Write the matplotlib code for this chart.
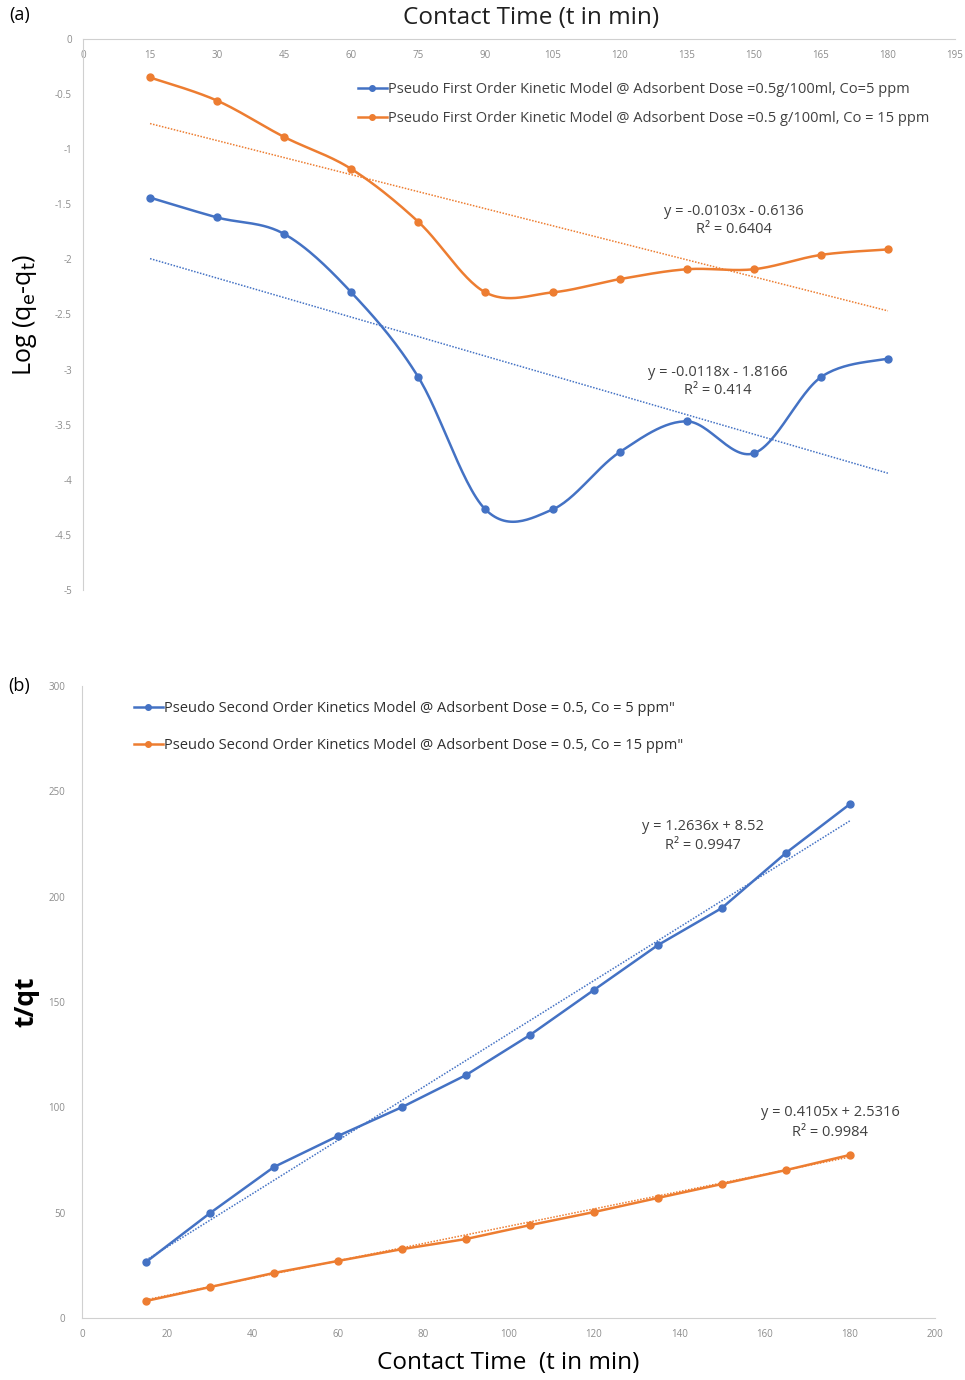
import numpy as np
import matplotlib.pyplot as plt
from matplotlib.lines import Line2D

plt.rcParams['font.family'] = ['Open Sans', 'DejaVu Sans']

# contact time (min)
t = [15, 30, 45, 60, 75, 90, 105, 120, 135, 150, 165, 180]

# pseudo first order: log(qe - qt)
pfo_5ppm = [-1.44, -1.62, -1.77, -2.30, -3.07, -4.27, -4.27, -3.75, -3.47, -3.76, -3.07, -2.90]
pfo_15ppm = [-0.35, -0.56, -0.89, -1.18, -1.66, -2.30, -2.30, -2.18, -2.09, -2.09, -1.96, -1.91]

# pseudo second order: t/qt
pso_5ppm = [26.6, 49.8, 71.7, 86.4, 100.1, 115.3, 134.3, 155.7, 177.0, 194.6, 220.7, 243.9]
pso_15ppm = [8.1, 14.7, 21.4, 27.1, 32.7, 37.5, 44.1, 50.3, 57.0, 63.6, 70.2, 77.4]

# linear trendlines (slope, intercept, R^2)
fit_pfo_5 = (-0.0118, -1.8166, 0.414)
fit_pfo_15 = (-0.0103, -0.6136, 0.6404)
fit_pso_5 = (1.2636, 8.52, 0.9947)
fit_pso_15 = (0.4105, 2.5316, 0.9984)

BLUE = '#4472C4'
ORANGE = '#ED7D31'
GREY = '#8c8c8c'


def smooth(x, y, n=30):
    # cubic bezier through the points, catmull-rom style control points
    x = np.asarray(x, float)
    y = np.asarray(y, float)
    px = np.concatenate([[x[0]], x, [x[-1]]])
    py = np.concatenate([[y[0]], y, [y[-1]]])
    xs, ys = [], []
    s = np.linspace(0, 1, n)
    for i in range(1, len(px) - 2):
        p0 = np.array([px[i], py[i]])
        p3 = np.array([px[i + 1], py[i + 1]])
        c1 = p0 + (np.array([px[i + 1], py[i + 1]]) - np.array([px[i - 1], py[i - 1]])) / 6
        c2 = p3 - (np.array([px[i + 2], py[i + 2]]) - np.array([px[i], py[i]])) / 6
        b = ((1 - s) ** 3)[:, None] * p0 + (3 * (1 - s) ** 2 * s)[:, None] * c1 \
            + (3 * (1 - s) * s ** 2)[:, None] * c2 + (s ** 3)[:, None] * p3
        xs.extend(b[:, 0])
        ys.extend(b[:, 1])
    return xs, ys


def trend(ax, fit, color):
    xx = np.array([t[0], t[-1]])
    ax.plot(xx, fit[0] * xx + fit[1], ls=(0, (1, 1)), lw=1.1, color=color, zorder=2)


def eq_label(fit):
    sign = '+' if fit[1] >= 0 else '-'
    return f'y = {fit[0]:g}x {sign} {abs(fit[1]):g}\nR² = {fit[2]:g}'


def style(ax):
    for side in ['right', 'top', 'bottom', 'left']:
        ax.spines[side].set_visible(False)
    ax.tick_params(length=0, labelsize=7, labelcolor=GREY)


fig = plt.figure(figsize=(9.65, 13.8), dpi=100)

# ---- (a) pseudo first order ----
ax1 = fig.add_axes([0.086, 0.5725, 0.9036, 0.3993])
style(ax1)
ax1.spines['left'].set_visible(True)
ax1.spines['left'].set_color('#d0d0d0')
ax1.spines['top'].set_visible(True)
ax1.spines['top'].set_color('#d0d0d0')
ax1.set_xlim(0, 195)
ax1.set_ylim(-5, 0)
ax1.set_xticks(range(0, 196, 15))
ax1.set_yticks(np.arange(-5, 0.1, 0.5))
ax1.set_yticklabels(['-5', '-4.5', '-4', '-3.5', '-3', '-2.5', '-2', '-1.5', '-1', '-0.5', '0'])
ax1.xaxis.tick_top()
ax1.tick_params(axis='x', pad=-16)
ax1.tick_params(axis='y', pad=8)

for y, fit, c in [(pfo_5ppm, fit_pfo_5, BLUE), (pfo_15ppm, fit_pfo_15, ORANGE)]:
    xs, ys = smooth(t, y)
    ax1.plot(xs, ys, color=c, lw=1.8, zorder=3)
    ax1.plot(t, y, 'o', color=c, ms=5, zorder=4)
    trend(ax1, fit, c)

ax1.text(145.6, -1.65, eq_label(fit_pfo_15), ha='center', va='center',
         fontsize=10.5, color='#404040', linespacing=1.3)
ax1.text(142, -3.11, eq_label(fit_pfo_5), ha='center', va='center',
         fontsize=10.5, color='#404040', linespacing=1.3)

h1 = [Line2D([], [], color=BLUE, lw=1.8, marker='o', ms=4),
      Line2D([], [], color=ORANGE, lw=1.8, marker='o', ms=4)]
ax1.legend(h1, ['Pseudo First Order Kinetic Model @ Adsorbent Dose =0.5g/100ml, Co=5 ppm',
                'Pseudo First Order Kinetic Model @ Adsorbent Dose =0.5 g/100ml, Co = 15 ppm'],
           loc='upper left', bbox_to_anchor=(0.3, 0.945), frameon=False, fontsize=10.5,
           handlelength=2.0, handletextpad=0.1, labelspacing=0.95, labelcolor='#404040')

ax1.set_ylabel(r'Log (q$_\mathrm{e}$-q$_\mathrm{t}$)', fontsize=18)
ax1.yaxis.set_label_coords(-0.05, 0.5)
fig.text(0.55, 0.987, 'Contact Time (t in min)', ha='center', va='center', fontsize=17.5, color='#202020')
fig.text(0.02, 0.989, '(a)', ha='center', va='center', fontsize=13)

# ---- (b) pseudo second order ----
ax2 = fig.add_axes([0.085, 0.0449, 0.884, 0.458])
style(ax2)
ax2.spines['left'].set_visible(True)
ax2.spines['left'].set_color('#d0d0d0')
ax2.spines['bottom'].set_visible(True)
ax2.spines['bottom'].set_color('#d0d0d0')
ax2.set_xlim(0, 200)
ax2.set_ylim(0, 300)
ax2.set_xticks(range(0, 201, 20))
ax2.set_yticks(range(0, 301, 50))
ax2.tick_params(axis='x', pad=8)
ax2.tick_params(axis='y', pad=12)

for y, fit, c in [(pso_5ppm, fit_pso_5, BLUE), (pso_15ppm, fit_pso_15, ORANGE)]:
    ax2.plot(t, y, color=c, lw=1.8, marker='o', ms=5, zorder=3)
    trend(ax2, fit, c)

ax2.text(145.6, 228.8, eq_label(fit_pso_5), ha='center', va='center',
         fontsize=10.5, color='#404040', linespacing=1.45)
ax2.text(175.4, 93.0, eq_label(fit_pso_15), ha='center', va='center',
         fontsize=10.5, color='#404040', linespacing=1.45)

h2 = [Line2D([], [], color=BLUE, lw=1.8, marker='o', ms=4),
      Line2D([], [], color=ORANGE, lw=1.8, marker='o', ms=4)]
ax2.legend(h2, ['Pseudo Second Order Kinetics Model @ Adsorbent Dose = 0.5, Co = 5 ppm"',
                'Pseudo Second Order Kinetics Model @ Adsorbent Dose = 0.5, Co = 15 ppm"'],
           loc='upper left', bbox_to_anchor=(0.045, 0.997), frameon=False, fontsize=10.5,
           handlelength=2.0, handletextpad=0.1, labelspacing=1.5, labelcolor='#303030')

ax2.set_xlabel('Contact Time  (t in min)', fontsize=17.5, labelpad=8)
ax2.set_ylabel('t/qt', fontsize=19, fontweight='bold')
ax2.yaxis.set_label_coords(-0.05, 0.5)
fig.text(0.02, 0.503, '(b)', ha='center', va='center', fontsize=13)

fig.savefig('out.png', dpi=100)
